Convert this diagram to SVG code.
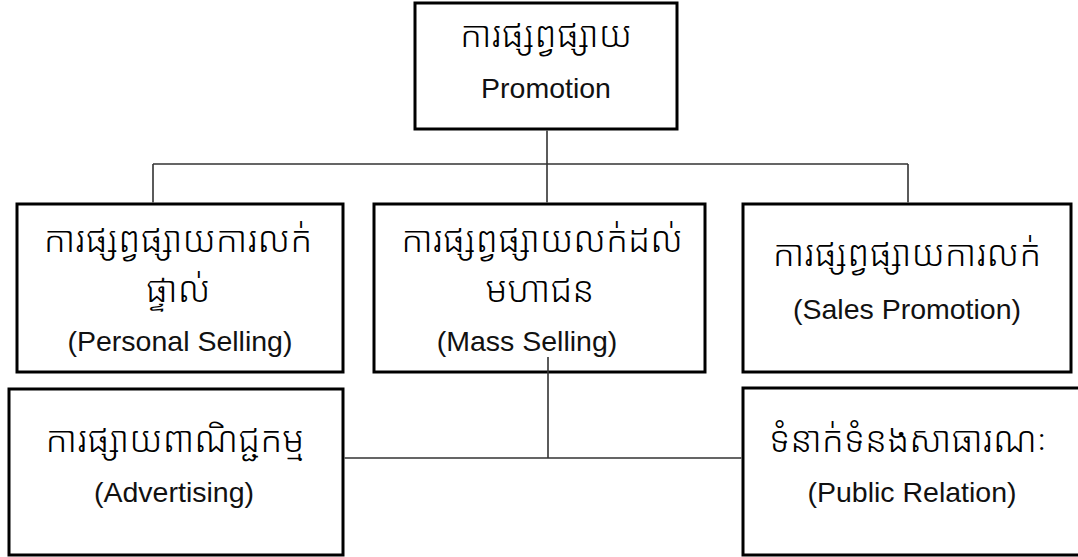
<svg xmlns="http://www.w3.org/2000/svg" width="1078" height="557" viewBox="0 0 1078 557">
<style>
.box{fill:#fff;stroke:#000;stroke-width:3}
.km{font-family:"Khmer OS","Noto Sans Khmer","Noto Serif Khmer","Liberation Sans",sans-serif;font-size:36px;font-weight:300;fill:#000;text-anchor:middle}
.en{font-family:"Liberation Sans",Arial,sans-serif;font-size:28.5px;fill:#111;text-anchor:middle}
.ln{stroke:#333;stroke-width:1.6;fill:none}
</style>
<rect width="1078" height="557" fill="#fff"/>
<g id="promotion">
<rect class="box" x="415" y="3" width="262" height="126"/>
<text class="km" x="546" y="47">ការផ្សព្វផ្សាយ</text>
<text class="en" x="546" y="98">Promotion</text>
</g>
<g id="personal-selling">
<rect class="box" x="17" y="204" width="326" height="168"/>
<text class="km" x="178" y="252">ការផ្សព្វផ្សាយការលក់</text>
<text class="km" x="178" y="302">ផ្ទាល់</text>
<text class="en" x="180" y="351">(Personal Selling)</text>
</g>
<g id="mass-selling">
<rect class="box" x="374" y="204" width="331" height="168"/>
<text class="km" x="542" y="252">ការផ្សព្វផ្សាយលក់ដល់</text>
<text class="km" x="540" y="302">មហាជន</text>
<text class="en" x="527" y="351">(Mass Selling)</text>
</g>
<g id="sales-promotion">
<rect class="box" x="743" y="204" width="328" height="168"/>
<text class="km" x="907" y="266">ការផ្សព្វផ្សាយការលក់</text>
<text class="en" x="907" y="319">(Sales Promotion)</text>
</g>
<g id="advertising">
<rect class="box" x="9" y="389" width="334" height="166"/>
<text class="km" x="175" y="452">ការផ្សាយពាណិជ្ជកម្ម</text>
<text class="en" x="174" y="502">(Advertising)</text>
</g>
<g id="public-relation">
<rect class="box" x="743" y="388" width="345" height="167"/>
<text class="km" x="908" y="452">ទំនាក់ទំនងសាធារណៈ</text>
<text class="en" x="912" y="502">(Public Relation)</text>
</g>
<g id="connectors">
<path class="ln" d="M547 130.5V164M153 164H908M153 164V202.5M547 164V202.5M908 164V202.5"/>
<path class="ln" d="M548 357V458M344.5 458H741.5"/>
</g>
</svg>
